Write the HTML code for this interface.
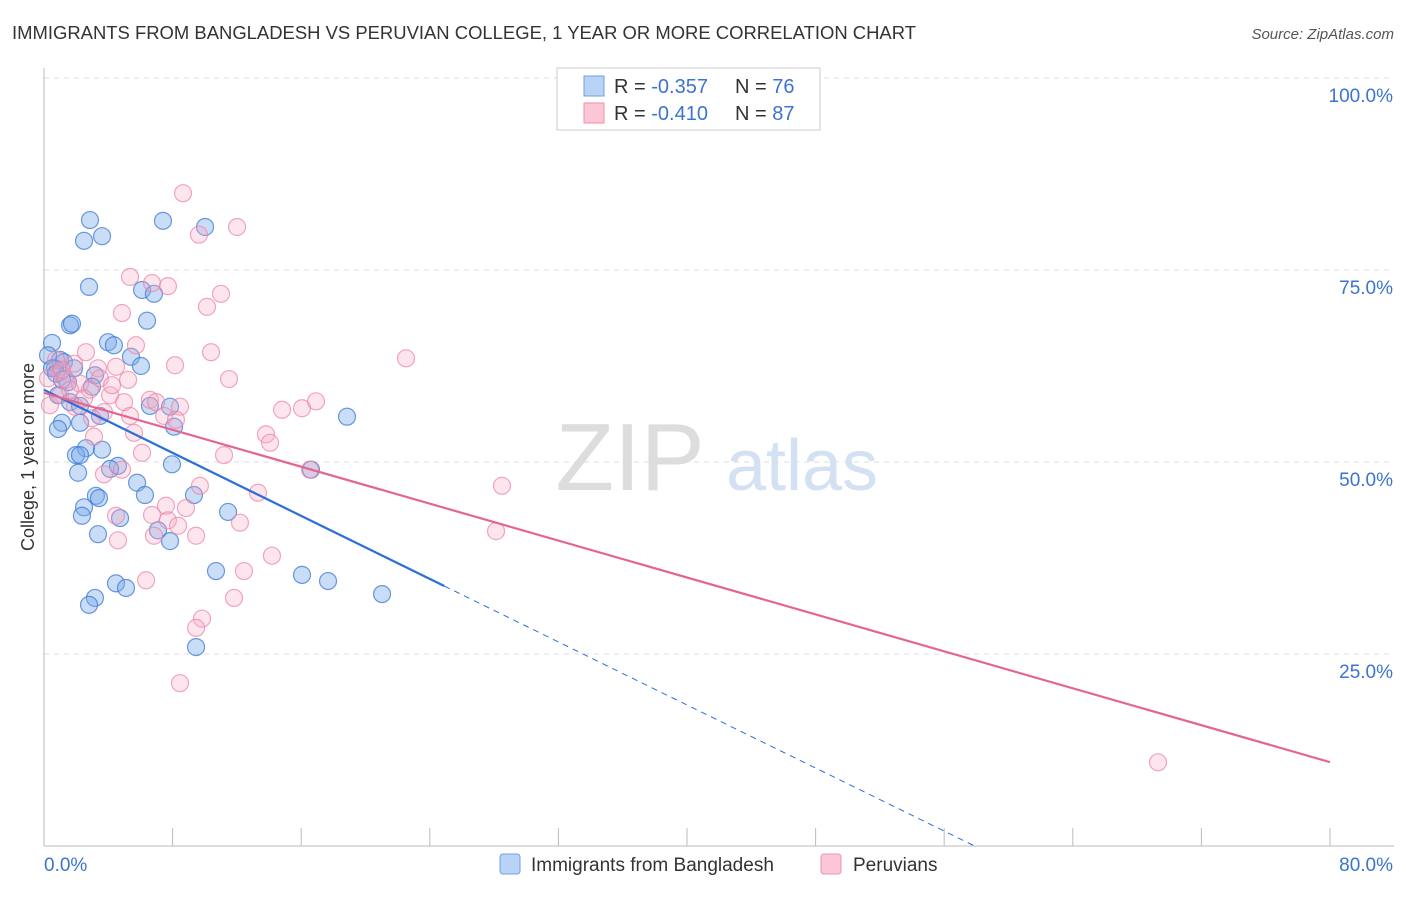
<!DOCTYPE html>
<html><head><meta charset="utf-8"><style>
body{margin:0;background:#fff;font-family:"Liberation Sans",sans-serif}
svg text{font-family:"Liberation Sans",sans-serif}
</style></head><body>
<svg id="chart" width="1406" height="892" xmlns="http://www.w3.org/2000/svg">
<text x="12" y="39" font-size="18" fill="#333" textLength="904" lengthAdjust="spacingAndGlyphs">IMMIGRANTS FROM BANGLADESH VS PERUVIAN COLLEGE, 1 YEAR OR MORE CORRELATION CHART</text>
<text x="1394" y="39" font-size="15" fill="#555" font-style="italic" text-anchor="end">Source: ZipAtlas.com</text>
<text x="630" y="490" font-size="96" fill="#ddd" font-family="Liberation Serif,serif" text-anchor="middle">ZIP</text>
<text x="802" y="490" font-size="72" fill="#d3e1f3" text-anchor="middle">atlas</text>
<g id="grid"></g>
<g id="axes"></g>
<g id="pts"></g>
<g id="lines"></g>
<text transform="translate(34,457) rotate(-90)" font-size="18" fill="#333" text-anchor="middle">College, 1 year or more</text>
<g>
<rect x="557" y="68" width="263" height="62" fill="#fff" stroke="#ccc"/>
<rect x="584" y="76" width="20" height="20" fill="#b8d3f5" stroke="#6fa0e0"/>
<rect x="584" y="103" width="20" height="20" fill="#fbc7d6" stroke="#ec92ae"/>
<text x="614" y="93" font-size="20" fill="#333">R = <tspan fill="#3b74d0">-0.357</tspan></text>
<text x="735" y="93" font-size="20" fill="#333">N = <tspan fill="#3b74d0">76</tspan></text>
<text x="614" y="120" font-size="20" fill="#333">R = <tspan fill="#3b74d0">-0.410</tspan></text>
<text x="735" y="120" font-size="20" fill="#333">N = <tspan fill="#3b74d0">87</tspan></text>
</g>
<g>
<rect x="500" y="854" width="20" height="20" rx="3" fill="#b8d3f5" stroke="#6fa0e0"/>
<text x="531" y="871" font-size="19" fill="#333">Immigrants from Bangladesh</text>
<rect x="821" y="854" width="20" height="20" rx="3" fill="#fbc7d6" stroke="#ec92ae"/>
<text x="853" y="871" font-size="19" fill="#333">Peruvians</text>
</g>
</svg>
<script>
const xTicks=[0,80];
const yTicks=[25,50,75,100];
const blueX=[2.86,2.49,3.61,7.40,10.02,2.80,6.10,6.84,1.62,1.74,6.41,0.50,3.98,4.35,5.41,6.03,1.00,1.24,0.25,0.68,3.17,1.49,2.99,0.87,1.62,2.24,3.48,1.12,2.24,6.59,7.84,8.09,18.85,0.87,2.61,3.61,1.99,2.24,2.12,4.60,4.11,5.79,6.28,3.23,3.42,2.49,2.36,4.73,7.96,9.33,11.45,7.09,7.84,3.36,10.70,4.48,5.10,16.05,17.67,21.03,3.17,2.80,9.46,16.61,0.50,0.75,1.12,1.87];
const blueY=[81.5,78.8,79.4,81.4,80.6,72.8,72.4,71.9,67.8,68.0,68.4,65.5,65.6,65.2,63.7,62.5,63.3,63.0,63.9,62.2,61.3,60.4,59.8,58.7,57.8,57.3,56.0,55.1,55.1,57.3,57.2,54.6,55.9,54.3,51.8,51.6,50.9,50.9,48.6,49.5,49.1,47.3,45.7,45.6,45.3,44.1,43.0,42.7,49.7,45.7,43.5,41.1,39.7,40.6,35.8,34.2,33.6,35.3,34.5,32.8,32.3,31.4,25.9,49.0,62.2,61.5,60.7,62.2];
const pinkX=[8.65,12.01,9.64,5.35,6.72,7.71,11.01,10.14,4.85,5.72,2.61,10.39,22.52,8.15,4.48,3.36,11.51,1.87,1.00,0.25,1.37,2.24,2.86,4.11,4.98,6.59,6.97,14.81,16.05,16.92,8.46,7.47,8.21,5.35,3.73,2.99,0.37,13.81,14.06,3.11,5.60,11.20,16.55,3.73,4.85,6.10,9.70,13.31,28.49,4.48,6.72,7.59,8.83,7.71,8.34,12.19,6.84,9.46,28.12,4.60,14.18,12.44,6.35,9.83,9.46,11.82,8.46,69.30,0.75,1.12,1.62,2.49,3.48,4.23,5.23,1.00,1.93];
const pinkY=[85.0,80.6,79.6,74.1,73.3,72.9,71.9,70.2,69.4,65.2,64.3,64.3,63.5,62.6,62.4,62.2,60.8,62.8,61.7,60.9,60.7,60.2,59.4,58.7,57.8,58.1,57.8,56.8,57.0,57.9,57.2,56.0,55.5,56.0,56.5,55.7,57.4,53.6,52.5,53.3,53.8,50.9,49.0,48.4,49.0,51.2,46.9,46.0,46.9,43.0,43.1,44.3,44.0,42.4,41.7,42.1,40.4,40.4,41.0,39.8,37.8,35.8,34.6,29.6,28.4,32.3,21.2,10.9,63.3,62.0,59.4,58.3,60.9,60.0,60.7,58.7,57.2];
const blueTrend=[59.4,-1.026];
const blueSolidEnd=24.9;
const pinkTrend=[59.0,-0.601];
const NS="http://www.w3.org/2000/svg";
const X0=44,X1=1330,Y0=846,Y100=78;
function sx(v){return X0+v/80*(X1-X0);}
function sy(v){return Y0-v/100*(Y0-Y100);}
function mk(tag,attrs,parent){const e=document.createElementNS(NS,tag);for(const k in attrs)e.setAttribute(k,attrs[k]);document.getElementById(parent).appendChild(e);return e;}
yTicks.forEach(t=>{
 const g=mk('line',{x1:X0,x2:1394,y1:sy(t),y2:sy(t),stroke:'#ddd','stroke-dasharray':'5,5'},'grid');
 
 
 const tx=mk('text',{x:1393,y:sy(t)+24,'font-size':19,fill:'#3b74d0','text-anchor':'end'},'grid');
 tx.textContent=t.toFixed(1)+'%';
 
 
});
let a=mk('line',{x1:X0,x2:X0,y1:68,y2:Y0,stroke:'#bbb'},'axes');


a=mk('line',{x1:X0,x2:1394,y1:Y0,y2:Y0,stroke:'#bbb'},'axes');


for(let i=1;i<=10;i++){
 const t=mk('line',{x1:sx(i*8),x2:sx(i*8),y1:828,y2:Y0,stroke:'#bbb'},'axes');
 
 
}
xTicks.forEach((v,i)=>{
 const tx=mk('text',{x:i==0?44:1393,y:871,'font-size':19,fill:'#3b74d0','text-anchor':i==0?'start':'end'},'axes');
 tx.textContent=v.toFixed(1)+'%';
 
 
});
blueX.forEach((v,i)=>{
 const c=mk('circle',{cx:sx(v),cy:sy(blueY[i]),r:8.5,fill:'rgba(120,170,235,0.4)',stroke:'rgba(60,120,210,0.75)','stroke-width':1.2},'pts');
 
 
});
pinkX.forEach((v,i)=>{
 const c=mk('circle',{cx:sx(v),cy:sy(pinkY[i]),r:8.5,fill:'rgba(248,170,195,0.3)',stroke:'rgba(235,130,165,0.7)','stroke-width':1.2},'pts');
 
 
});
const bz=-blueTrend[0]/blueTrend[1];
let l=mk('line',{x1:sx(0),y1:sy(blueTrend[0]),x2:sx(blueSolidEnd),y2:sy(blueTrend[0]+blueTrend[1]*blueSolidEnd),stroke:'#2c6fd6','stroke-width':2.2},'lines');


l=mk('line',{x1:sx(blueSolidEnd),y1:sy(blueTrend[0]+blueTrend[1]*blueSolidEnd),x2:sx(bz),y2:sy(0),stroke:'#2c6fd6','stroke-width':1,'stroke-dasharray':'6,5'},'lines');


l=mk('line',{x1:sx(0),y1:sy(pinkTrend[0]),x2:sx(80),y2:sy(pinkTrend[0]+pinkTrend[1]*80),stroke:'#e4668f','stroke-width':2.2},'lines');


</script>
</body></html>
